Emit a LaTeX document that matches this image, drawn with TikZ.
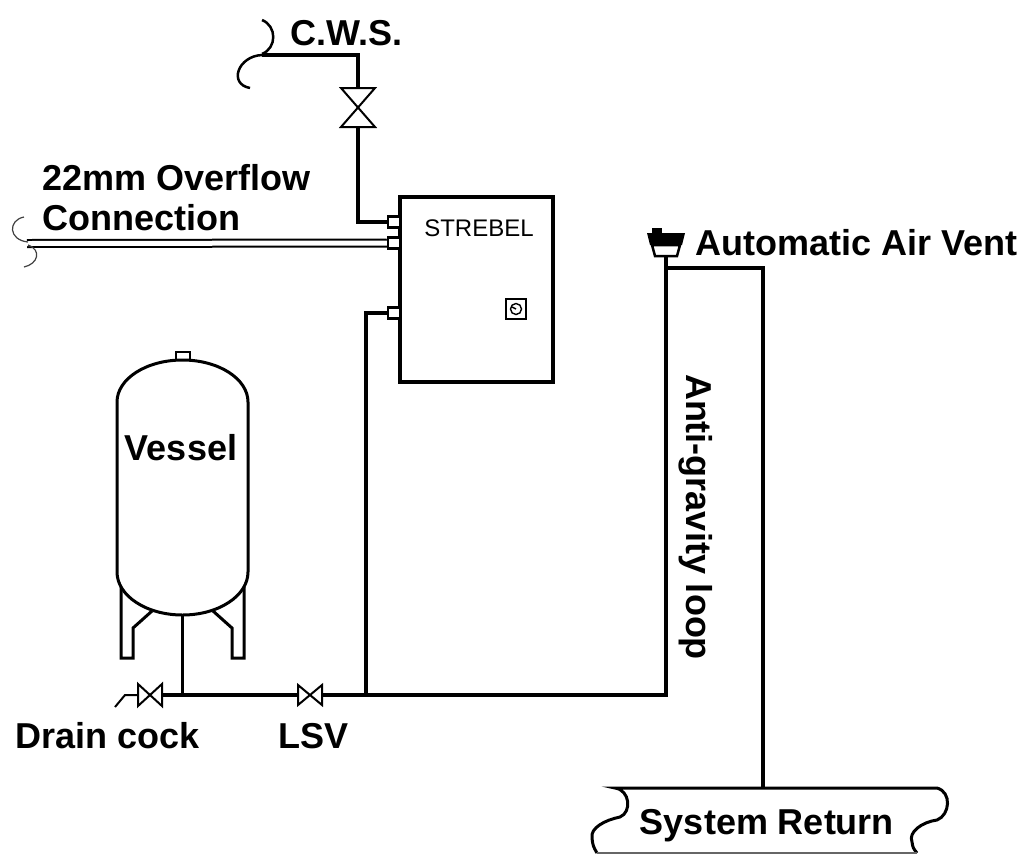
\documentclass[tikz,border=0pt]{standalone}
\usepackage{fontspec}
\setmainfont{Liberation Sans}
\usetikzlibrary{positioning,calc}

\begin{document}
\begin{tikzpicture}[x=1pt, y=-1pt]
  % Define styles
  \tikzstyle{pipe} = [line width=3.5pt, line join=miter]
  \tikzstyle{thinline} = [line width=2pt, line join=miter]
  \tikzstyle{breakline} = [line width=1.2pt, black!75]
  \tikzstyle{port} = [rectangle, draw, fill=white, line width=2.5pt, minimum width=12pt, minimum height=11pt, inner sep=0pt]
  \tikzstyle{label} = [font=\bfseries\fontsize{36}{40}\selectfont, inner sep=0pt, text height=26pt, text depth=0pt]

  \useasboundingbox (0,0) rectangle (1025,855);

  % Strebel unit
  \node [rectangle, draw, line width=3.5pt, minimum width=153pt, minimum height=185pt, inner sep=0pt] (strebel) at (476.5,289.5) {};
  \node [font=\fontsize{24}{28}\selectfont, inner sep=0pt] (strebeltxt) at (479,228) {STREBEL};
  \node [rectangle, draw, line width=1.8pt, minimum size=20pt, inner sep=0pt] (indicator) at (516,309) {};
  \draw [line width=1.4pt] (indicator.center) circle (5.5pt);
  \draw [line width=1.4pt] (indicator.center) -- ++(-4,-2);

  % Ports on the unit
  \node [port] (cwsport) at (394,222) {};
  \node [port] (ofport) at (394,243) {};
  \node [port] (retport) at (394,313) {};

  % Cold water supply with valve
  \coordinate (cwsv) at (358,107);
  \coordinate (cwsend) at (262,55);
  \draw [pipe] (cwsport.west) -| ($(cwsv)+(0,20)$);
  \draw [pipe] ($(cwsv)+(0,-19)$) |- (cwsend);
  \draw [thinline] ($(cwsv)+(-17,-19)$) -- ($(cwsv)+(17,-19)$) -- ($(cwsv)+(-17,20)$) -- ($(cwsv)+(17,20)$) -- cycle;
  \draw [line width=2.5pt] (262,20) .. controls (277,26) and (277,48) .. (262,54);
  \draw [line width=2.5pt] (cwsend) .. controls (238,56) and (228,84) .. (250,88);
  \node [label, anchor=west] (cws) at (290,32) {C.W.S.};

  % Overflow
  \coordinate (ofend) at (27,243.5);
  \draw [double, double distance=5pt, line width=2pt] (ofport.west) -- (ofend);
  \draw [breakline] (24,217) .. controls (8,220) and (8,240) .. (28,242);
  \draw [breakline] (28,245) .. controls (42,250) and (38,264) .. (24,267);
  \node [label, anchor=west] (of1) at (42,177) {22mm Overflow};
  \node [label, anchor=west] (of2) at (42,217) {Connection};

  % Vessel
  \draw [line width=2.5pt, fill=white] (176,352) rectangle (190,360);
  \draw [line width=3pt] (117,572) -- (117,402) .. controls (117,378.8) and (146.3,360) .. (182.5,360)
    .. controls (218.7,360) and (248,378.8) .. (248,402) -- (248,572)
    .. controls (248,595.7) and (218.7,615) .. (182.5,615)
    .. controls (146.3,615) and (117,595.7) .. (117,572);
  \draw [line width=3pt] (121,587) -- (121,658) -- (133,658) -- (133,628) -- (152,611);
  \draw [line width=3pt] (244,587) -- (244,658) -- (232,658) -- (232,628) -- (213,611);
  \node [label] (vessel) at (181,447) {Vessel};

  % Bottom pipe, drain cock and LSV
  \coordinate (dcv) at (150,695);
  \coordinate (lsv) at (310,695);
  \coordinate (stem) at (182.5,695);
  \coordinate (tee) at (366,695);
  \coordinate (loopbl) at (666,695);
  \draw [pipe] (182.5,615) -- (stem);
  \draw [pipe] ($(dcv)+(12,0)$) -- ($(lsv)+(-12,0)$);
  \draw [pipe] (retport.west) -| (tee);
  \draw [thinline] ($(dcv)+(-12,-11)$) -- ($(dcv)+(-12,11)$) -- ($(dcv)+(12,-11)$) -- ($(dcv)+(12,11)$) -- cycle;
  \draw [thinline] ($(dcv)+(-12,0)$) -- ++(-13,0) -- ++(-10,12);
  \draw [thinline] ($(lsv)+(-12,-10)$) -- ($(lsv)+(-12,10)$) -- ($(lsv)+(12,-10)$) -- ($(lsv)+(12,10)$) -- cycle;
  \node [label, anchor=west] (drain) at (15,735) {Drain cock};
  \node [label, anchor=west] (lsvtxt) at (278,735) {LSV};

  % Anti-gravity loop and air vent
  \coordinate (vent) at (666,256);
  \coordinate (loopt) at (666,268);
  \coordinate (sysret) at (763,788);
  \draw [pipe] ($(lsv)+(12,0)$) -- (loopbl) -- (vent);
  \draw [pipe] (loopt) -| (sysret);
  \fill (652,228) rectangle (662,236);
  \fill (647,233) -- (685,233) -- (682,245) -- (650,245) -- cycle;
  \draw [line width=2.5pt] (652,245) -- (680,245) -- (677,256) -- (655,256) -- cycle;
  \node [label, anchor=west] (ventlbl) at (695,242) {Automatic Air Vent};
  \node [label, rotate=-90] (looplbl) at (699,517) {Anti-gravity loop};

  % System return
  \draw [line width=3pt] (597,853) .. controls (593,846) .. (592,838)
    .. controls (590,828) and (605,820) .. (620,817)
    .. controls (632,812) and (630,790) .. (615,788) -- (937,788)
    .. controls (952,792) and (950,815) .. (937,820)
    .. controls (922,822) and (908,832) .. (912,842)
    .. controls (913,848) .. (917,853);
  \draw [line width=1.2pt, black!60] (597,853) -- (917,853);
  \node [label] (sysretlbl) at (767,821) {System Return};
\end{tikzpicture}
\end{document}
